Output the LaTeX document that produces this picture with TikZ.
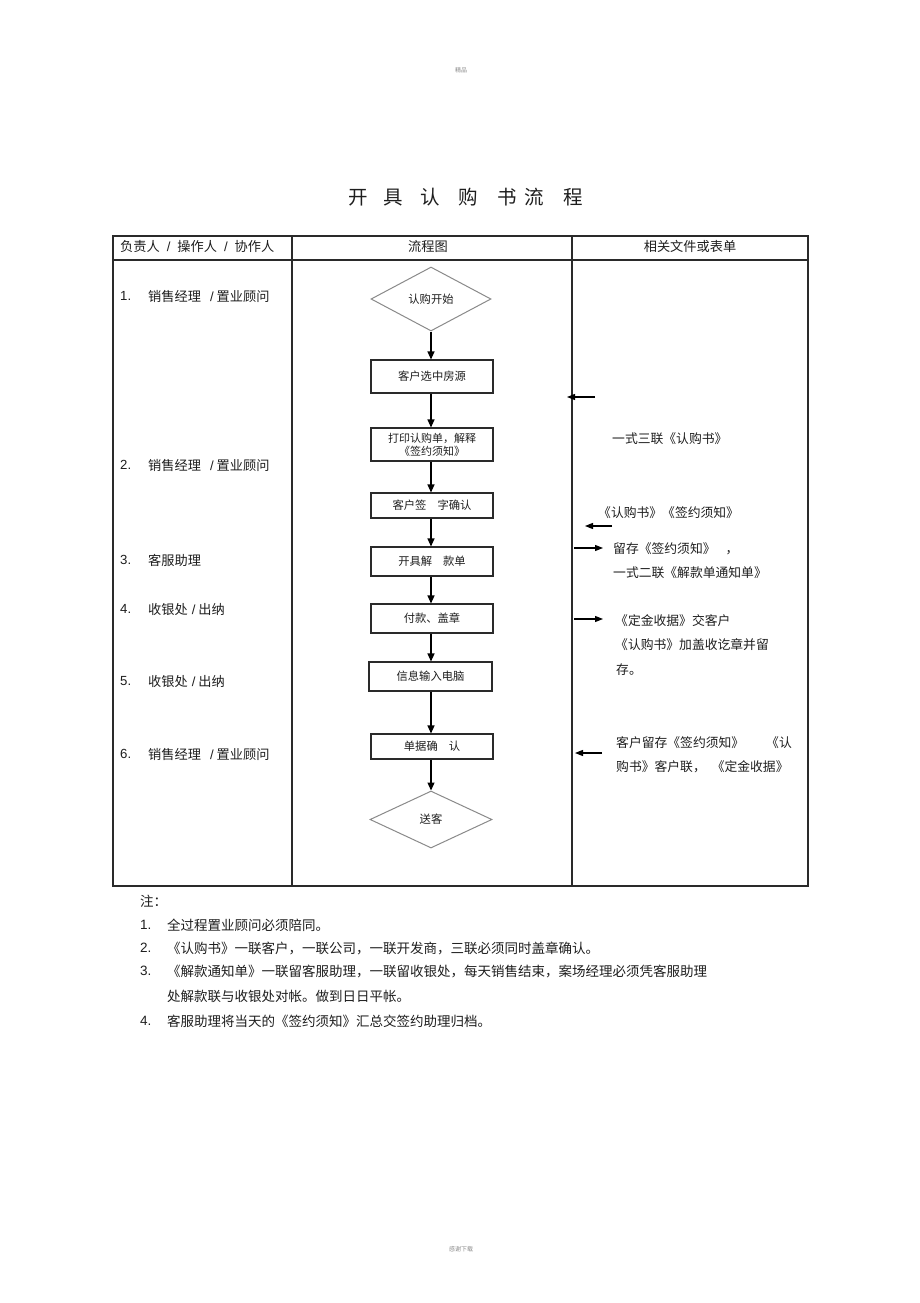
\documentclass[tikz,border=0pt]{standalone}
\usepackage{fontspec}
\setmainfont{Noto Sans CJK SC}
\newfontfamily\lat{Liberation Sans}
\usetikzlibrary{shapes.geometric,arrows.meta}
\definecolor{ink}{HTML}{1E1E1E}
\definecolor{rule}{HTML}{2A2A2A}
\definecolor{dgray}{HTML}{8A8A8A}
\tikzset{
  stepbox/.style={draw=rule, line width=1.1pt, minimum width=122pt, inner sep=0pt, font=\fontsize{11.3}{13}\selectfont, text=ink},
  decision/.style={diamond, draw=dgray, line width=1pt, inner sep=0pt, font=\fontsize{11.3}{13}\selectfont, text=ink},
  flow/.style={line width=1.2pt, draw=black, -{Triangle[length=8pt,width=7pt]}},
  side/.style={line width=1.2pt, draw=black, -{Triangle[length=8pt,width=6pt]}},
  cell/.style={anchor=west, inner sep=0pt, font=\fontsize{12.8}{14}\selectfont, text=ink},
  lcell/.style={anchor=west, inner sep=0pt, font=\fontsize{13.2}{15}\selectfont, text=ink},
  note/.style={anchor=west, inner sep=0pt, font=\fontsize{13.5}{15}\selectfont, text=ink},
  tline/.style={draw=rule, line width=1.3pt}
}
\begin{document}
\begin{tikzpicture}[x=1pt,y=-1pt]
\fill[white] (0,0) rectangle (920,1303);
\useasboundingbox (0,0) rectangle (920,1303);

% header / footer marks
\node[font=\fontsize{6}{7}\selectfont, text=dgray] (top) at (461,70) {精品};
\node[font=\fontsize{6}{7}\selectfont, text=dgray] (bot) at (461,1249) {感谢下载};

% title
\node[anchor=west, inner sep=0pt, font=\fontsize{19.5}{21}\selectfont, text=ink] (title) at (348,197)
  {开\hspace{16pt}具\hspace{17pt}认\hspace{19pt}购\hspace{19pt}书\hspace{8pt}流\hspace{19pt}程};

% table
\draw[tline] (113,236) rectangle (808,886);
\draw[tline] (113,260) -- (808,260);
\draw[tline] (292,236) -- (292,886);
\draw[tline] (572,236) -- (572,886);

\node[lcell] (h1) at (120,246) {负责人\hspace{7pt}{\lat/}\hspace{7pt}操作人\hspace{7pt}{\lat/}\hspace{7pt}协作人};
\node[lcell, anchor=center] (h2) at (428,246) {流程图};
\node[lcell, anchor=center] (h3) at (690,246) {相关文件或表单};

% left column
\node[lcell] (n1) at (120,296) {\lat 1.};
\node[lcell] (r1) at (148,296) {销售经理\hspace{9pt}{\lat/}\hspace{3pt}置业顾问};
\node[lcell] (n2) at (120,465) {\lat 2.};
\node[lcell] (r2) at (148,465) {销售经理\hspace{9pt}{\lat/}\hspace{3pt}置业顾问};
\node[lcell] (n3) at (120,560) {\lat 3.};
\node[lcell] (r3) at (148,560) {客服助理};
\node[lcell] (n4) at (120,609) {\lat 4.};
\node[lcell] (r4) at (148,609) {收银处\hspace{4pt}{\lat/}\hspace{3pt}出纳};
\node[lcell] (n5) at (120,681) {\lat 5.};
\node[lcell] (r5) at (148,681) {收银处\hspace{4pt}{\lat/}\hspace{3pt}出纳};
\node[lcell] (n6) at (120,754) {\lat 6.};
\node[lcell] (r6) at (148,754) {销售经理\hspace{9pt}{\lat/}\hspace{3pt}置业顾问};

% flowchart
\node[decision, minimum width=120pt, minimum height=64pt] (d1) at (431,299) {认购开始};
\node[stepbox, minimum height=33pt] (b2) at (432,376.5) {客户选中房源};
\node[stepbox, minimum height=33pt, align=center, font=\fontsize{11}{13}\selectfont] (b3) at (432,444.5) {打印认购单，解释\\《签约须知》};
\node[stepbox, minimum height=25pt] (b4) at (432,505.5) {客户签\hspace{11pt}字确认};
\node[stepbox, minimum height=29pt] (b5) at (432,561.5) {开具解\hspace{11pt}款单};
\node[stepbox, minimum height=29pt] (b6) at (432,618.5) {付款、盖章};
\node[stepbox, minimum height=29pt, minimum width=123pt] (b7) at (430.5,676.5) {信息输入电脑};
\node[stepbox, minimum height=25pt] (b8) at (432,746.5) {单据确\hspace{11pt}认};
\node[decision, minimum width=122pt, minimum height=57pt] (d2) at (431,819.5) {送客};

\draw[flow] (d1.south) -- (d1.south |- b2.north);
\draw[flow] (d1.south |- b2.south) -- (d1.south |- b3.north);
\draw[flow] (d1.south |- b3.south) -- (d1.south |- b4.north);
\draw[flow] (d1.south |- b4.south) -- (d1.south |- b5.north);
\draw[flow] (d1.south |- b5.south) -- (d1.south |- b6.north);
\draw[flow] (d1.south |- b6.south) -- (d1.south |- b7.north);
\draw[flow] (d1.south |- b7.south) -- (d1.south |- b8.north);
\draw[flow] (d1.south |- b8.south) -- (d2.north);

% right column arrows
\coordinate (a1s) at (595,397); \coordinate (a1e) at (567,397);
\coordinate (a2s) at (612,526); \coordinate (a2e) at (585,526);
\coordinate (a3s) at (574,548); \coordinate (a3e) at (603,548);
\coordinate (a4s) at (574,619); \coordinate (a4e) at (603,619);
\coordinate (a5s) at (602,753); \coordinate (a5e) at (575,753);
\draw[side] (a1s) -- (a1e);
\draw[side] (a2s) -- (a2e);
\draw[side] (a3s) -- (a3e);
\draw[side] (a4s) -- (a4e);
\draw[side] (a5s) -- (a5e);

% right column texts
\node[cell] (t1) at (612,439) {一式三联《认购书》};
\node[cell] (t2) at (598,513) {《认购书》《签约须知》};
\node[cell] (t3) at (613,549) {留存《签约须知》\hspace{10pt}，};
\node[cell] (t4) at (613,573) {一式二联《解款单通知单》};
\node[cell] (t5) at (615,621) {《定金收据》交客户};
\node[cell] (t6) at (615,645) {《认购书》加盖收讫章并留};
\node[cell] (t7) at (616,670) {存。};
\node[cell] (t8) at (616,743) {客户留存《签约须知》\hspace{22pt}《认};
\node[cell] (t9) at (616,767) {购书》客户联，\hspace{6pt}《定金收据》};

% notes
\node[note] (nz) at (140,901) {注：};
\node[note] (m1) at (140,925) {\lat 1.};
\node[note] (l1) at (167,925) {全过程置业顾问必须陪同。};
\node[note] (m2) at (140,948) {\lat 2.};
\node[note] (l2) at (167,948) {《认购书》一联客户，一联公司，一联开发商，三联必须同时盖章确认。};
\node[note] (m3) at (140,971) {\lat 3.};
\node[note] (l3) at (167,971) {《解款通知单》一联留客服助理，一联留收银处，每天销售结束，案场经理必须凭客服助理};
\node[note] (l3b) at (167,996) {处解款联与收银处对帐。做到日日平帐。};
\node[note] (m4) at (140,1021) {\lat 4.};
\node[note] (l4) at (167,1021) {客服助理将当天的《签约须知》汇总交签约助理归档。};
\end{tikzpicture}
\end{document}
